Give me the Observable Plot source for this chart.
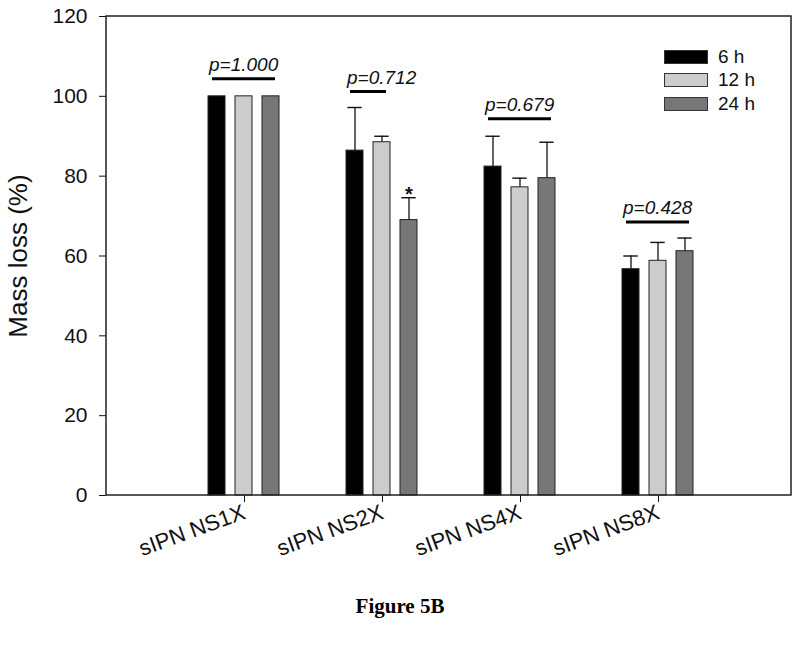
<!DOCTYPE html>
<html>
<head>
<meta charset="utf-8">
<script src="https://cdn.jsdelivr.net/npm/d3@7"></script>
<script src="https://cdn.jsdelivr.net/npm/@observablehq/plot@0.6"></script>
<style>
  body { margin: 0; background: #fff; }
  #wrap { position: relative; width: 800px; height: 651px; font-family: "Liberation Sans", Arial, sans-serif; background: #fff; }
  #legend { position: absolute; left: 664px; top: 45px; }
  .row { display: flex; align-items: center; height: 23.5px; }
  .sw { width: 42px; height: 12px; border: 1px solid #333; margin-right: 10px; }
  .lab { font-size: 19px; color: #111; }
  #caption { position: absolute; top: 594px; left: 0; width: 800px; text-align: center;
             font: bold 21px "Liberation Serif", "Times New Roman", serif; color: #000; }
</style>
</head>
<body>
<div id="wrap">
  <div id="chart"></div>
  <div id="legend"></div>
  <div id="caption">Figure 5B</div>
</div>
<script>
// ---- data ----
const groups = ["sIPN NS1X", "sIPN NS2X", "sIPN NS4X", "sIPN NS8X"];
const series = ["6 h", "12 h", "24 h"];
const colors = ["#000000", "#cccccc", "#777777"];
const mean6h  = [100, 86.4, 82.4, 56.7];
const mean12h = [100, 88.5, 77.2, 58.8];
const mean24h = [100, 69.0, 79.5, 61.2];
const err6h   = [0, 10.8, 7.6, 3.3];
const err12h  = [0, 1.5, 2.3, 4.6];
const err24h  = [0, 5.6, 9.0, 3.3];
const pLabels = ["p=1.000", "p=0.712", "p=0.679", "p=0.428"];
const pLevel  = [104.4, 101.2, 94.4, 68.5];
const pFrom   = ["6 h", "6 h", "6 h", "6 h"];
const pTo     = ["24 h", "12 h", "24 h", "24 h"];
const starGroups = ["sIPN NS2X"];
const starSeries = ["24 h"];
const yTicks = [0, 20, 40, 60, 80, 100, 120];

// ---- tables ----
const means = [mean6h, mean12h, mean24h];
const errs = [err6h, err12h, err24h];
const rows = groups.flatMap((g, i) => series.map((s, j) => ({
  group: g, series: s, value: means[j][i], err: errs[j][i], top: means[j][i] + errs[j][i]
})));
const errRows = rows.filter(d => d.err > 0);
const pRows = groups.map((g, i) => ({group: g, from: pFrom[i], to: pTo[i], y: pLevel[i], label: pLabels[i]}));
const starRows = starGroups.map((g, i) => rows.find(d => d.group === g && d.series === starSeries[i]));

const W = 800, H = 560;
const mL = 106, mR = 9, mT = 16, mB = 65;

const chart = Plot.plot({
  width: W, height: H,
  marginLeft: mL, marginRight: mR, marginTop: mT, marginBottom: mB,
  style: {fontFamily: "'Liberation Sans', Arial, sans-serif", fontSize: "21px", background: "white", color: "#111", overflow: "visible"},
  fx: {domain: groups, paddingInner: 0.405, paddingOuter: 0.669, align: 0.516, label: null},
  x: {domain: series, paddingInner: 0.36, paddingOuter: 0.18, axis: null},
  y: {domain: [0, 120]},
  color: {domain: series, range: colors},
  marks: [
    Plot.axisY({ticks: yTicks, tickSize: 7, tickPadding: 12, fontSize: 21,
                label: "Mass loss (%)", labelAnchor: "center", labelOffset: 98, labelArrow: "none"}),
    Plot.axisFx({anchor: "bottom", tickSize: 7, tickRotate: -20, fontSize: 22, label: null, tickPadding: 9}),
    Plot.ruleX(errRows, {fx: "group", x: "series", y1: "value", y2: "top", stroke: "#111", strokeWidth: 1.3}),
    Plot.tickY(errRows, {fx: "group", x: "series", y: "top", stroke: "#111", strokeWidth: 1.4, inset: 1.3}),
    Plot.barY(rows, {fx: "group", x: "series", y: "value", fill: "series", stroke: "#222", strokeWidth: 1}),
    Plot.ruleY(pRows, {fx: "group", x1: "from", x2: "to", y: "y", stroke: "#000", strokeWidth: 3, insetLeft: 4, insetRight: 4}),
    Plot.text(pRows, {fx: "group", x: "from", y: "y", text: "label", textAnchor: "start", lineAnchor: "bottom",
                      dx: -8, dy: -8, fontSize: 19, fontStyle: "italic", fill: "#111"}),
    Plot.text(starRows, {fx: "group", x: "series", y: "top", text: () => "*", lineAnchor: "bottom",
                         dy: 3, fontSize: 20, fontWeight: "bold", fill: "#111"})
  ]
});

document.getElementById("chart").appendChild(chart);

const svg = chart.tagName.toLowerCase() === "svg" ? chart : chart.querySelector("svg");

// the y axis is rendered at the first facet's edge; shift it to the plot's left edge
const fxScale = chart.scale("fx");
const facetOffset = fxScale.apply(groups[0]) - mL;
Array.from(svg.querySelectorAll("g[aria-label]"))
  .filter(el => (el.getAttribute("aria-label") || "").startsWith("y-axis"))
  .forEach(el => {
    const wrap = document.createElementNS("http://www.w3.org/2000/svg", "g");
    wrap.setAttribute("transform", `translate(${-facetOffset},0)`);
    el.parentNode.insertBefore(wrap, el);
    wrap.appendChild(el);
  });

// frame around whole plotting area
const ys = chart.scale("y");
const yTop = ys.apply(120), yBot = ys.apply(0);
d3.select(svg).append("rect")
  .attr("x", mL).attr("y", yTop)
  .attr("width", W - mL - mR).attr("height", yBot - yTop)
  .attr("fill", "none").attr("stroke", "#222").attr("stroke-width", 1.5);

// larger y-axis title
Array.from(svg.querySelectorAll("g[aria-label]"))
  .filter(el => el.getAttribute("aria-label") === "y-axis label")
  .forEach(g => {
    g.setAttribute("font-size", "26");
    g.querySelectorAll("text").forEach(t => t.setAttribute("font-size", "26"));
  });

// legend
const lg = document.getElementById("legend");
series.forEach((s, i) => {
  const r = document.createElement("div"); r.className = "row";
  const sw = document.createElement("div"); sw.className = "sw"; sw.style.background = colors[i];
  const t = document.createElement("span"); t.className = "lab"; t.textContent = s;
  r.appendChild(sw); r.appendChild(t); lg.appendChild(r);
});
</script>
</body>
</html>
